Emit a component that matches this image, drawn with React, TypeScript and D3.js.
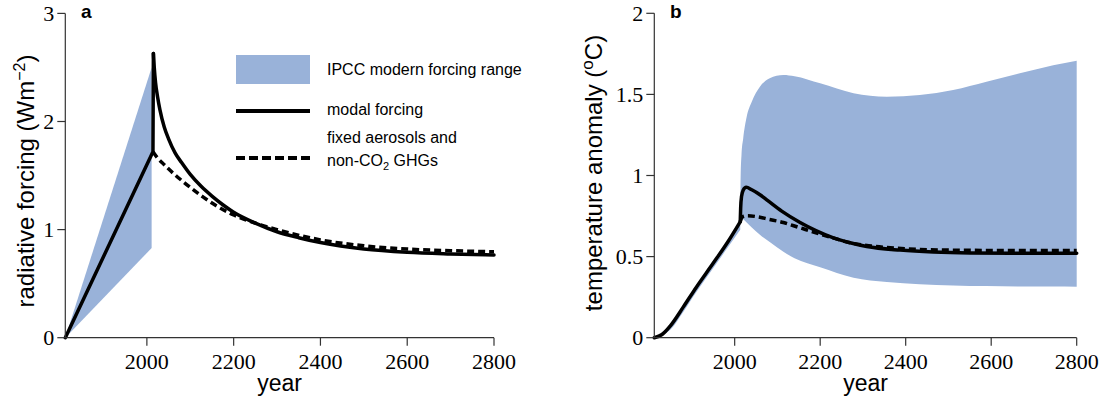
import React from "react";
import * as d3 from "d3";

// ---------- data ----------
const xTicks = [2000, 2200, 2400, 2600, 2800];
const yTicksA = [0, 1, 2, 3];
const yTicksB = [0, 0.5, 1, 1.5, 2];
const yTickLabelsB = ["0", "0.5", "1", "1.5", "2"];

// panel a: IPCC modern forcing range
const bandYearsA = [1812, 2011];
const bandLowerA = [0, 0.83];
const bandUpperA = [0, 2.5];

// panel a: modal forcing (linear rise + jump, then decay)
const modalYearsA1 = [1812, 2014, 2015];
const modalValsA1 = [0, 1.72, 2.63];
const modalYearsA2 = [2015, 2017, 2020, 2025, 2030, 2040, 2050, 2065, 2080, 2100, 2125, 2150, 2175, 2200, 2250, 2300, 2350, 2400, 2500, 2600, 2700, 2800];
const modalValsA2 = [2.63, 2.5, 2.36, 2.22, 2.11, 1.95, 1.84, 1.71, 1.62, 1.51, 1.4, 1.31, 1.23, 1.16, 1.06, 0.98, 0.925, 0.88, 0.82, 0.79, 0.775, 0.765];

// panel a: fixed aerosols and non-CO2 GHGs
const fixedYearsA = [2014, 2023, 2040, 2061, 2080, 2100, 2130, 2160, 2200, 2250, 2300, 2400, 2500, 2600, 2700, 2800];
const fixedValsA = [1.72, 1.67, 1.6, 1.52, 1.455, 1.39, 1.3, 1.22, 1.135, 1.06, 1.0, 0.905, 0.85, 0.82, 0.805, 0.795];

// panel b: temperature range (before / after 2013)
const bandYearsB1 = [1812, 1850, 1880, 1910, 1950, 1985, 2013];
const bandUpperB1 = [0, 0.075, 0.19, 0.31, 0.46, 0.595, 0.71];
const bandLowerB1 = [0, 0.05, 0.16, 0.28, 0.43, 0.56, 0.665];
const bandYearsB2 = [2013, 2014, 2016, 2020, 2028, 2040, 2059, 2082, 2114, 2140, 2200, 2278, 2356, 2433, 2511, 2589, 2667, 2745, 2800];
const bandUpperB2 = [0.74, 1.0, 1.13, 1.23, 1.36, 1.455, 1.547, 1.6, 1.62, 1.612, 1.568, 1.507, 1.486, 1.496, 1.527, 1.578, 1.63, 1.68, 1.708];
const bandLowerB2 = [0.745, 0.745, 0.74, 0.73, 0.71, 0.68, 0.635, 0.59, 0.53, 0.49, 0.435, 0.37, 0.343, 0.33, 0.322, 0.318, 0.316, 0.315, 0.314];

// panel b: modal temperature (before / after 2013)
const modalYearsB1 = [1812, 1830, 1850, 1880, 1910, 1950, 1985, 2013];
const modalValsB1 = [0, 0.02, 0.075, 0.19, 0.31, 0.46, 0.595, 0.715];
const modalYearsB2 = [2013, 2014, 2016, 2020, 2027, 2040, 2060, 2075, 2110, 2153, 2190, 2231, 2270, 2309, 2387, 2465, 2550, 2650, 2800];
const modalValsB2 = [0.715, 0.8, 0.87, 0.91, 0.927, 0.912, 0.88, 0.85, 0.78, 0.71, 0.66, 0.615, 0.585, 0.562, 0.54, 0.528, 0.522, 0.52, 0.52];

// panel b: fixed aerosols
const fixedYearsB = [2013, 2018, 2030, 2052, 2080, 2114, 2150, 2192, 2230, 2270, 2320, 2400, 2500, 2600, 2700, 2800];
const fixedValsB = [0.715, 0.745, 0.752, 0.746, 0.73, 0.71, 0.68, 0.645, 0.615, 0.585, 0.565, 0.548, 0.54, 0.538, 0.537, 0.537];

const legendLabels = ["IPCC modern forcing range", "modal forcing", "fixed aerosols and", "non-CO", "2", " GHGs"];

// ---------- styles ----------
const SANS = "'Liberation Sans', Arial, Helvetica, sans-serif";
const SERIF = "'Liberation Serif', 'Times New Roman', serif";
const BLUE = "#99b2d9";
const AXIS = "#333";

const zip = (xs: number[], ys: number[]) => xs.map((x, i) => [x, ys[i]] as [number, number]);
const band = (xs: number[], lo: number[], hi: number[]) => xs.map((x, i) => ({ x, lo: lo[i], hi: hi[i] }));

export default function App() {
  const X_DOMAIN: [number, number] = [1812, 2800];
  const xA = d3.scaleLinear().domain(X_DOMAIN).range([65.3, 494]);
  const yA = d3.scaleLinear().domain([0, 3]).range([337.7, 13.4]);
  const xB = d3.scaleLinear().domain(X_DOMAIN).range([654.3, 1076.7]);
  const yB = d3.scaleLinear().domain([0, 2]).range([337.7, 13.3]);

  const lineFn = (xs: any, ys: any, curve: any) =>
    d3.line<[number, number]>().x((d) => xs(d[0])).y((d) => ys(d[1])).curve(curve);

  const areaFn = (xs: any, ys: any, curve: any) =>
    d3
      .area<{ x: number; lo: number; hi: number }>()
      .x((d) => xs(d.x))
      .y0((d) => ys(d.lo))
      .y1((d) => ys(d.hi))
      .curve(curve);

  const bandA = areaFn(xA, yA, d3.curveLinear)(band(bandYearsA, bandLowerA, bandUpperA));
  const modalA1 = lineFn(xA, yA, d3.curveLinear)(zip(modalYearsA1, modalValsA1));
  const modalA2 = lineFn(xA, yA, d3.curveMonotoneX)(zip(modalYearsA2, modalValsA2));
  const fixedA = lineFn(xA, yA, d3.curveMonotoneX)(zip(fixedYearsA, fixedValsA));

  const bandB1 = areaFn(xB, yB, d3.curveMonotoneX)(band(bandYearsB1, bandLowerB1, bandUpperB1));
  const bandB2 = areaFn(xB, yB, d3.curveMonotoneX)(band(bandYearsB2, bandLowerB2, bandUpperB2));
  const modalB1 = lineFn(xB, yB, d3.curveMonotoneX)(zip(modalYearsB1, modalValsB1));
  const modalB2 = lineFn(xB, yB, d3.curveMonotoneX)(zip(modalYearsB2, modalValsB2));
  const fixedB = lineFn(xB, yB, d3.curveMonotoneX)(zip(fixedYearsB, fixedValsB));

  const axes = (xs: any, ys: any, yTicks: number[], yLabels: string[]) => {
    const [x0, x1] = xs.range();
    const [y0, y1] = ys.range();
    return (
      <g>
        <line x1={x0} x2={x1} y1={y0} y2={y0} stroke={AXIS} strokeWidth={1.2} />
        <line x1={x0} x2={x0} y1={y0} y2={y1} stroke={AXIS} strokeWidth={1.2} />
        {xTicks.map((t) => (
          <g key={"x" + t}>
            <line x1={xs(t)} x2={xs(t)} y1={y0} y2={y0 + 8} stroke={AXIS} strokeWidth={1.2} />
            <text x={xs(t)} y={369} textAnchor="middle" fontFamily={SERIF} fontSize={22} fill="#000">
              {t}
            </text>
          </g>
        ))}
        {yTicks.map((t, i) => (
          <g key={"y" + t}>
            <line x1={x0 - 8} x2={x0} y1={ys(t)} y2={ys(t)} stroke={AXIS} strokeWidth={1.2} />
            <text x={x0 - 11} y={ys(t)} dy="0.33em" textAnchor="end" fontFamily={SERIF} fontSize={22} fill="#000">
              {yLabels[i]}
            </text>
          </g>
        ))}
        <text x={(x0 + x1) / 2} y={391} textAnchor="middle" fontFamily={SANS} fontSize={23} fill="#000">
          year
        </text>
      </g>
    );
  };

  const solid = { fill: "none", stroke: "#000", strokeWidth: 3.5, strokeLinejoin: "round" as const, strokeLinecap: "round" as const };
  const dashed = { fill: "none", stroke: "#000", strokeWidth: 3.5, strokeDasharray: "7,4" };

  return (
    <svg width={1110} height={401} style={{ position: "absolute", left: 0, top: 0, background: "#fff" }}>
      {/* ---------- panel a ---------- */}
      <path d={bandA || ""} fill={BLUE} stroke="none" />
      <path d={fixedA || ""} {...dashed} />
      <path d={modalA1 || ""} {...solid} />
      <path d={modalA2 || ""} {...solid} />
      {axes(xA, yA, yTicksA, yTicksA.map(String))}
      <text transform="translate(34,181) rotate(-90)" textAnchor="middle" fontFamily={SANS} fontSize={24} fill="#000">
        radiative forcing (Wm
        <tspan dy={-9} fontSize={16}>−2</tspan>
        <tspan dy={9}>)</tspan>
      </text>
      <text x={81} y={18} fontFamily={SANS} fontSize={19} fontWeight="bold" fill="#000">
        a
      </text>

      {/* legend */}
      <rect x={236} y={55} width={74} height={29} fill={BLUE} />
      <text x={327} y={75} fontFamily={SANS} fontSize={16} fill="#000">
        {legendLabels[0]}
      </text>
      <line x1={236} x2={310} y1={111} y2={111} stroke="#000" strokeWidth={3.8} />
      <text x={327} y={115} fontFamily={SANS} fontSize={16} fill="#000">
        {legendLabels[1]}
      </text>
      <line x1={236} x2={310} y1={158} y2={158} stroke="#000" strokeWidth={3.8} strokeDasharray="9,4" />
      <text x={327} y={143} fontFamily={SANS} fontSize={16} fill="#000">
        {legendLabels[2]}
      </text>
      <text x={327} y={166} fontFamily={SANS} fontSize={16} fill="#000">
        {legendLabels[3]}
        <tspan dy={4} fontSize={11}>{legendLabels[4]}</tspan>
        <tspan dy={-4}>{legendLabels[5]}</tspan>
      </text>

      {/* ---------- panel b ---------- */}
      <path d={bandB1 || ""} fill={BLUE} stroke="none" />
      <path d={bandB2 || ""} fill={BLUE} stroke="none" />
      <path d={fixedB || ""} {...dashed} />
      <path d={modalB1 || ""} {...solid} />
      <path d={modalB2 || ""} {...solid} />
      {axes(xB, yB, yTicksB, yTickLabelsB)}
      <text transform="translate(602,173) rotate(-90)" textAnchor="middle" fontFamily={SANS} fontSize={24} fill="#000">
        temperature anomaly (
        <tspan dy={-9} fontSize={17}>o</tspan>
        <tspan dy={9}>C)</tspan>
      </text>
      <text x={670} y={18} fontFamily={SANS} fontSize={19} fontWeight="bold" fill="#000">
        b
      </text>
    </svg>
  );
}
